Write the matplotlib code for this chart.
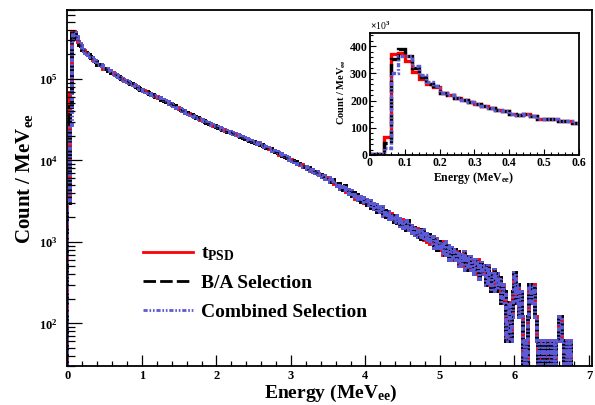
import numpy as np
import matplotlib
matplotlib.use('Agg')
import matplotlib.pyplot as plt
from matplotlib.lines import Line2D
from matplotlib.ticker import MultipleLocator, LogLocator, FuncFormatter, NullFormatter

# ---------------------------------------------------------------------------
# DATA  (counts / MeV_ee, 0.02 MeV bins from 0 to 7.04 MeV)
# ---------------------------------------------------------------------------
BIN_LO = 0.0
BIN_HI = 7.04
N_BINS = 352

LABELS = [r'$\mathrm{t_{PSD}}$', 'B/A Selection', 'Combined Selection']

# first ten bins (0.00 - 0.18 MeV) where the selections differ
HEAD_TPSD = [3000, 3000, 67000, 370000, 375000, 345000, 305000, 280000, 262000, 250000]
HEAD_BA = [3000, 3000, 45000, 352000, 388000, 362000, 318000, 285000, 262000, 252000]
HEAD_COMB = [3000, 3000, 27000, 300000, 362000, 365000, 325000, 292000, 268000, 255000]

# 0.20 MeV onwards, the three selections lie on top of each other
TAIL = [
    228000, 222000, 210000, 203000, 195000, 188000, 180000, 172000, 165000, 160000,  # 0.2
    150000, 148000, 150000, 143000, 134000, 134000, 132000, 126000, 124000, 118000,  # 0.4
    117000, 115000, 111000, 108000, 106000, 103000, 100500, 98000, 95500, 93500,     # 0.6
    91000, 89500, 87000, 85500, 83000, 81000, 79500, 77000, 75500, 74000,            # 0.8
    73000, 71000, 70000, 68500, 67500, 66000, 64000, 63500, 61500, 60500,            # 1.0
    59500, 58000, 57500, 55500, 54500, 53500, 52000, 51500, 49500, 49000,            # 1.2
    47500, 46500, 46000, 44000, 43500, 42500, 41500, 40500, 40000, 38500,            # 1.4
    38500, 37500, 36500, 36000, 35000, 34500, 33500, 33000, 32500, 31500,            # 1.6
    31000, 30500, 29500, 29000, 28500, 28000, 27500, 27000, 26500, 26500,            # 1.8
    25500, 25000, 24800, 24000, 23800, 23500, 23000, 22500, 22200, 22000,            # 2.0
    21800, 21200, 21000, 20500, 20500, 19700, 19500, 19400, 18700, 18500,            # 2.2
    18200, 18000, 17500, 17400, 16800, 16900, 16400, 16000, 16200, 15500,            # 2.4
    15300, 15000, 14800, 14300, 14200, 13700, 13800, 13200, 13000, 12800,            # 2.6
    12500, 12200, 11800, 11900, 11300, 11200, 10900, 10600, 10700, 10100,            # 2.8
    10000, 9800, 9500, 9600, 9000, 9100, 8700, 8800, 8400, 8200,                     # 3.0
    8200, 7900, 8000, 7500, 7600, 7300, 7100, 7200, 6800, 6700,                      # 3.2
    6600, 6200, 6500, 5900, 6000, 6100, 5500, 5600, 5800, 5200,                      # 3.4
    5200, 4800, 5100, 4500, 4700, 4300, 4800, 4100, 4300, 3900,                      # 3.6
    4200, 3700, 4000, 3400, 3800, 3300, 3600, 3100, 3500, 3000,                      # 3.8
    3300, 2800, 3000, 3200, 2600, 2900, 2500, 2800, 2300, 2700,                      # 4.0
    2400, 2700, 2100, 2400, 2000, 2350, 1900, 2200, 2100, 1750,                      # 4.2
    2050, 1700, 1900, 1550, 1850, 1500, 1750, 1400, 1800, 1400,                      # 4.4
    1550, 1300, 1500, 1200, 1450, 1150, 1350, 1100, 1400, 1050,                      # 4.6
    1250, 1000, 1200, 950, 1050, 1150, 850, 1100, 800, 1000,                         # 4.8
    800, 950, 700, 1000, 700, 900, 600, 850, 750, 600,                               # 5.0
    800, 600, 750, 500, 700, 550, 750, 450, 650, 500,                                # 5.2
    650, 450, 600, 400, 550, 600, 350, 550, 400, 450,                                # 5.4
    500, 300, 500, 350, 250, 400, 450, 250, 400, 280,                                # 5.6
    360, 180, 300, 240, 60, 120, 180, 60, 120, 240,                                  # 5.8
    420, 180, 300, 120, 240, 120, 0, 60, 0, 120,                                     # 6.0
    300, 180, 240, 300, 120, 60, 0, 60, 60, 0,                                       # 6.2
    60, 60, 0, 60, 60, 0, 60, 0, 60, 60,                                             # 6.4
    120, 120, 60, 0, 0, 60, 0, 60, 0, 0,                                             # 6.6
    0, 0, 0, 0, 0, 0, 0, 0, 0, 0,                                                    # 6.8
    0, 0,                                                                            # 7.0
]

COLORS = ['#ff0000', '#000000', '#5c5ad6']
DASHES = [None, (9, 3), (3, 1.3, 1.2, 1.3, 1.2, 1.3)]

plt.rcParams['font.family'] = 'Liberation Serif'
plt.rcParams['font.weight'] = 'bold'
plt.rcParams['axes.labelweight'] = 'bold'
plt.rcParams['mathtext.fontset'] = 'custom'
plt.rcParams['mathtext.rm'] = 'Liberation Serif:bold'
plt.rcParams['mathtext.it'] = 'Liberation Serif:bold'
plt.rcParams['mathtext.bf'] = 'Liberation Serif:bold'
plt.rcParams['lines.scale_dashes'] = False

edges = np.linspace(BIN_LO, BIN_HI, N_BINS + 1)
series = [np.array(h + TAIL, dtype=float) for h in (HEAD_TPSD, HEAD_BA, HEAD_COMB)]


def style(ls):
    return '-' if ls is None else (0, ls)


fig = plt.figure(figsize=(5.95, 4.05), dpi=100)
ax = fig.add_axes([0.1134, 0.0963, 0.8815, 0.8802])

for vals, col, ls in zip(series, COLORS, DASHES):
    v = np.where(vals > 0, vals, 1.0)
    ax.stairs(v, edges, baseline=1.0, color=col, lw=2.8, linestyle=style(ls))

ax.set_yscale('log')
ax.set_xlim(0, 7.04)
ax.set_ylim(30, 7.1e5)

ax.xaxis.set_major_locator(MultipleLocator(1))
ax.xaxis.set_minor_locator(MultipleLocator(0.2))
ax.yaxis.set_major_locator(LogLocator(base=10))
ax.yaxis.set_minor_locator(LogLocator(base=10, subs=np.arange(2, 10)))
ax.yaxis.set_minor_formatter(NullFormatter())
ax.yaxis.set_major_formatter(FuncFormatter(lambda v, p: r'$\mathrm{10^{%d}}$' % round(np.log10(v))))
ax.tick_params(axis='x', which='major', direction='in', length=8, width=0.9, top=False, labelsize=9, pad=3)
ax.tick_params(axis='x', which='minor', direction='in', length=3.8, width=0.9, top=False)
ax.tick_params(axis='y', which='major', direction='in', length=11, width=0.9, right=False, labelsize=9, pad=7)
ax.tick_params(axis='y', which='minor', direction='in', length=5.8, width=0.9, right=False)
for s in ax.spines.values():
    s.set_linewidth(1.3)

ax.set_xlabel(r'Energy (MeV$_{\mathrm{ee}}$)', fontsize=14)
ax.set_ylabel(r'Count / MeV$_{\mathrm{ee}}$', fontsize=15)
ax.xaxis.set_label_coords(0.502, -0.076)
ax.xaxis.label.set_va('center')
ax.yaxis.set_label_coords(-0.081, 0.525)
ax.yaxis.label.set_va('center')

handles = [Line2D([], [], color=c, lw=2, linestyle=style(ls)) for c, ls in zip(COLORS, DASHES)]
ax.legend(handles, LABELS, loc='upper left', bbox_to_anchor=(0.1434, 0.34), frameon=False,
          fontsize=14, handlelength=2.6, handletextpad=0.4, labelspacing=0.58,
          borderpad=0, borderaxespad=0)

# inset: low-energy region, linear scale
axin = fig.add_axes([0.6218, 0.6173, 0.3513, 0.3012])
axin.set_facecolor('white')
for vals, col, ls in zip(series, COLORS, DASHES):
    axin.stairs(vals / 1000.0, edges, baseline=0.0, color=col, lw=2.4, linestyle=style(ls))
axin.set_xlim(0, 0.6)
axin.set_ylim(0, 448)
axin.xaxis.set_major_locator(MultipleLocator(0.1))
axin.xaxis.set_minor_locator(MultipleLocator(0.02))
axin.yaxis.set_major_locator(MultipleLocator(100))
axin.yaxis.set_minor_locator(MultipleLocator(20))
axin.xaxis.set_major_formatter(FuncFormatter(lambda v, p: '%g' % round(v, 2)))
axin.tick_params(which='major', direction='in', length=4.5, width=0.8, top=False, right=False, labelsize=8.5, pad=1.5)
axin.tick_params(which='minor', direction='in', length=2.3, width=0.8, top=False, right=False)
for s in axin.spines.values():
    s.set_linewidth(1.3)
axin.set_xlabel(r'Energy (MeV$_{\mathrm{ee}}$)', fontsize=8.5)
axin.set_ylabel(r'Count / MeV$_{\mathrm{ee}}$', fontsize=7.5)
axin.xaxis.set_label_coords(0.498, -0.185)
axin.xaxis.label.set_va('center')
axin.yaxis.set_label_coords(-0.135, 0.52)
axin.yaxis.label.set_va('center')
axin.text(0.0, 1.01, r'$\times$10$^{3}$', transform=axin.transAxes, ha='left', va='bottom',
          fontsize=7, fontweight='normal')

fig.savefig('out.png', dpi=100)
